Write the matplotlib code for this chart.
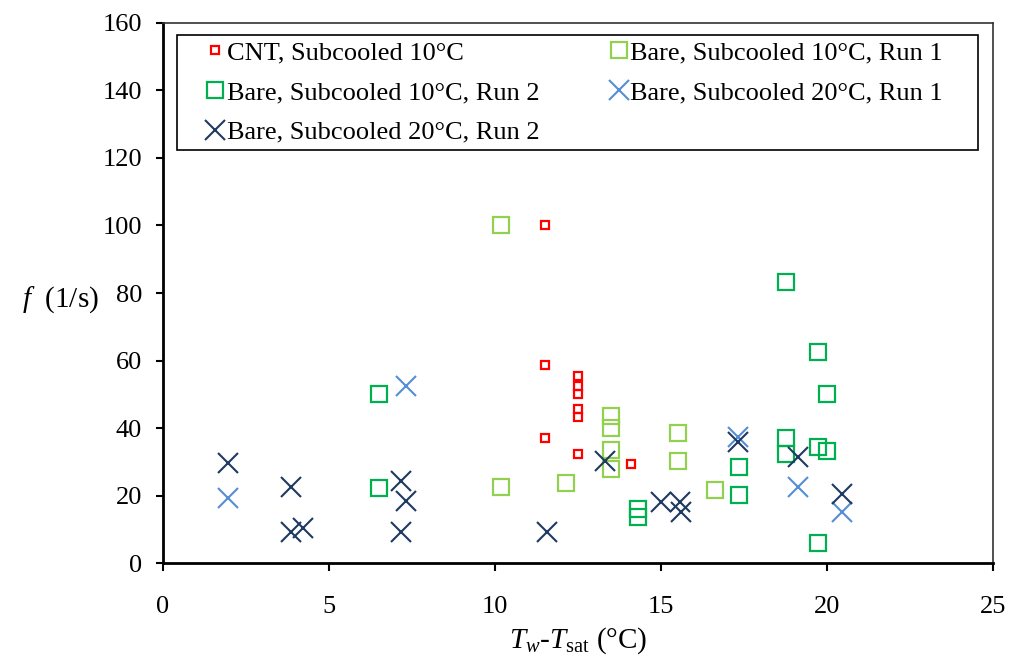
import matplotlib.pyplot as plt
from matplotlib.patches import Rectangle

plt.rcParams['font.family'] = ['Liberation Serif', 'DejaVu Serif']
plt.rcParams['mathtext.fontset'] = 'custom'
plt.rcParams['mathtext.rm'] = 'Liberation Serif'
plt.rcParams['mathtext.it'] = 'Liberation Serif:italic'

# CNT, Subcooled 10°C
cnt_x = [11.5, 11.5, 11.5, 12.5, 12.5, 12.5, 12.5, 12.5, 12.5, 14.1]
cnt_f = [100, 58.8, 37.0, 55.5, 52.5, 50.0, 45.6, 43.4, 32.3, 29.3]

# Bare, Subcooled 10°C, Run 1
b10r1_x = [10.17, 10.17, 12.14, 13.5, 13.5, 13.5, 13.5, 15.52, 15.52, 16.63]
b10r1_f = [100, 22.6, 23.8, 43.6, 39.9, 33.5, 27.8, 38.4, 30.3, 21.6]

# Bare, Subcooled 10°C, Run 2
b10r2_x = [6.52, 6.52, 14.3, 14.3, 18.77, 19.72, 19.99, 18.77, 18.77, 19.72, 19.99, 17.34, 17.34, 19.72]
b10r2_f = [50.0, 22.1, 16.1, 13.7, 83.3, 62.4, 50.0, 36.9, 32.2, 34.5, 33.3, 28.5, 20.3, 5.8]

# Bare, Subcooled 20°C, Run 1
b20r1_x = [1.97, 7.32, 17.33, 19.12, 20.47]
b20r1_f = [19.2, 52.5, 37.2, 22.6, 15.0]

# Bare, Subcooled 20°C, Run 2
b20r2_x = [1.97, 3.85, 3.85, 4.23, 7.16, 7.32, 7.16, 13.31, 11.56, 14.99, 15.57, 15.6, 17.33, 19.12, 20.46]
b20r2_f = [29.5, 22.6, 9.3, 10.3, 24.4, 18.5, 9.1, 30.2, 9.1, 18.2, 18.2, 15.2, 35.8, 31.3, 20.4]

fig = plt.figure(figsize=(10.09, 6.62), dpi=100)
ax = fig.add_axes([0.1615, 0.1495, 0.8225, 0.8158])

h_cnt, = ax.plot(cnt_x, cnt_f, 's', ms=6, mfc='none', mec='#FF0000', mew=1.6,
                 label='CNT, Subcooled 10°C')
h_b10r1, = ax.plot(b10r1_x, b10r1_f, 's', ms=11.5, mfc='none', mec='#92D050', mew=1.6,
                   label='Bare, Subcooled 10°C, Run 1')
h_b10r2, = ax.plot(b10r2_x, b10r2_f, 's', ms=11.5, mfc='none', mec='#00B050', mew=1.6,
                   label='Bare, Subcooled 10°C, Run 2')
h_b20r1, = ax.plot(b20r1_x, b20r1_f, 'x', ms=14, mec='#558ED5', mew=1.5,
                   label='Bare, Subcooled 20°C, Run 1')
h_b20r2, = ax.plot(b20r2_x, b20r2_f, 'x', ms=14, mec='#1F3A60', mew=1.5,
                   label='Bare, Subcooled 20°C, Run 2')

ax.set_xlim(0, 25)
ax.set_ylim(0, 160)
ax.set_xticks(range(0, 26, 5))
ax.set_yticks(range(0, 161, 20))
ax.tick_params(axis='x', direction='out', length=6, width=1.5, pad=18, labelsize=19)
ax.tick_params(axis='y', direction='out', length=5, width=1.5, pad=10, labelsize=19)

for s in ['left', 'bottom']:
    ax.spines[s].set_linewidth(2.0)
for s in ['top', 'right']:
    ax.spines[s].set_linewidth(1.2)
    ax.spines[s].set_color('#333333')

ax.set_xlabel(r'$T_w$-$T_{\mathrm{sat}}$ (°C)', fontsize=21, labelpad=5)
ax.set_ylabel(r'$f$  (1/s)', fontsize=21, rotation=0, labelpad=0)
ax.yaxis.set_label_coords(-0.124, 0.46)

# legend frame drawn separately so the columns keep their natural spacing
ax.add_patch(Rectangle((0.017, 0.765), 0.965, 0.213, transform=ax.transAxes,
                       fill=False, edgecolor='black', linewidth=1.2, zorder=5))
handles = [h_cnt, h_b10r2, h_b20r2, h_b10r1, h_b20r1]
leg = ax.legend(handles=handles, ncol=2, loc='upper left',
                bbox_to_anchor=(0.053, 0.967), frameon=False,
                fontsize=19, handlelength=0.6, handletextpad=0.15,
                labelspacing=0.62, borderpad=0, columnspacing=2.7,
                borderaxespad=0)

fig.savefig('out.png', dpi=100)
